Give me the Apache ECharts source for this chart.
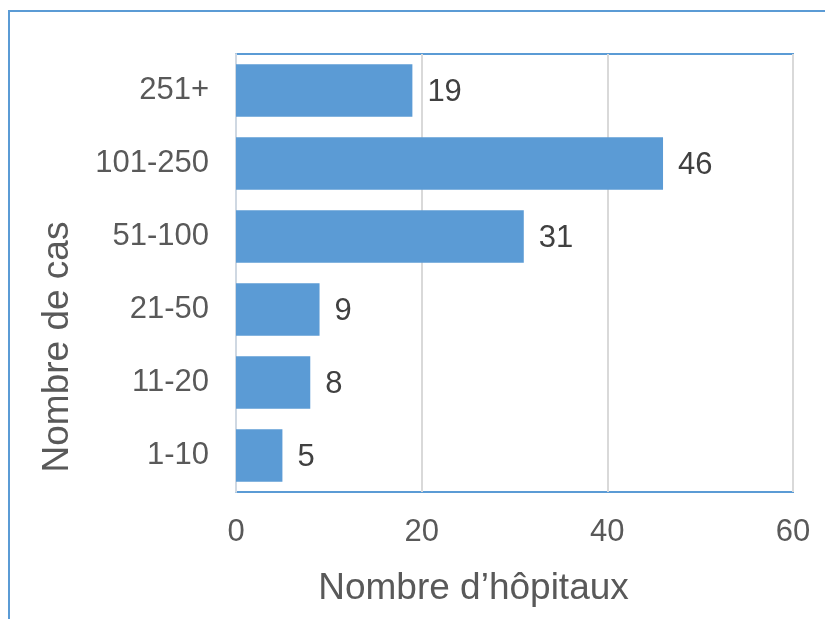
<!DOCTYPE html>
<html>
<head>
<meta charset="utf-8">
<script src="https://cdn.jsdelivr.net/npm/echarts@6/dist/echarts.min.js"></script>
<style>html,body{margin:0;padding:0;background:#fff}#c{width:825px;height:619px}</style>
</head>
<body>
<div id="c"></div>
<script>
const categories = ['1-10', '11-20', '21-50', '51-100', '101-250', '251+'];
const hospitals = [5, 8, 9, 31, 46, 19];
const xTicks = [0, 20, 40, 60];

const chart = echarts.init(document.getElementById('c'), null, {renderer: 'canvas'});
const font = '"Liberation Sans", Arial, sans-serif';
chart.setOption({
  animation: false,
  backgroundColor: '#ffffff',
  graphic: [{
    type: 'rect', silent: true, z: 100,
    shape: {x: 9, y: 11, width: 900, height: 700},
    style: {fill: 'none', stroke: '#5B9BD5', lineWidth: 2}
  }],
  grid: {left: 236, top: 54, right: 32, bottom: 127, show: true, borderColor: '#5B9BD5', borderWidth: 2, backgroundColor: 'transparent'},
  xAxis: {
    type: 'value', min: xTicks[0], max: xTicks[xTicks.length - 1], interval: 20,
    name: 'Nombre d\u2019h\u00f4pitaux', nameLocation: 'middle', nameGap: 78,
    nameTextStyle: {fontFamily: font, fontSize: 37, color: '#595959', padding: [0, 82, 0, 0]},
    axisLine: {show: false}, axisTick: {show: false},
    axisLabel: {fontFamily: font, fontSize: 31, color: '#595959', margin: 25},
    splitLine: {show: true, lineStyle: {color: '#D9D9D9', width: 2}}
  },
  yAxis: {
    type: 'category', data: categories,
    name: 'Nombre de cas', nameLocation: 'middle', nameGap: 160, nameRotate: 90,
    nameTextStyle: {fontFamily: font, fontSize: 37, color: '#595959', padding: [0, 148, 0, 0]},
    axisLine: {show: true, lineStyle: {color: '#CFD8E2', width: 2}},
    axisTick: {show: false},
    axisLabel: {fontFamily: font, fontSize: 31, color: '#595959', margin: 27},
    splitLine: {show: false}
  },
  series: [{
    type: 'bar', data: hospitals, barCategoryGap: '28%',
    itemStyle: {color: '#5B9BD5'},
    label: {show: true, position: 'right', distance: 15, offset: [0, 2], fontFamily: font, fontSize: 31, color: '#404040'}
  }]
});
</script>
</body>
</html>
